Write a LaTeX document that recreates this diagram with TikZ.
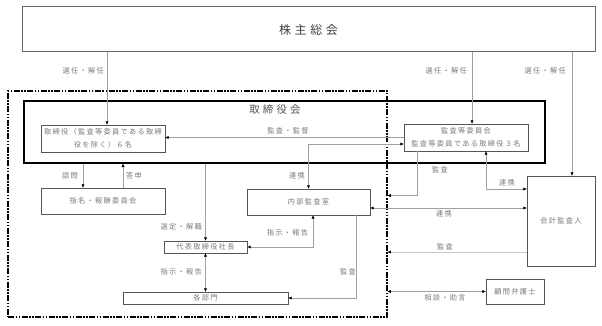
\documentclass[tikz,border=0pt]{standalone}
\usepackage{fontspec}
\setmainfont{Noto Sans CJK JP}
\newfontfamily\jp[LetterSpace=18]{Noto Sans CJK JP}
\newfontfamily\jpw[LetterSpace=30]{Noto Sans CJK JP}
\usetikzlibrary{arrows.meta}
\definecolor{lnGray}{HTML}{A0A0A0}
\definecolor{lnLight}{HTML}{C8C8C8}
\definecolor{txGray}{HTML}{7A7A7A}
\definecolor{bxGray}{HTML}{555555}
\definecolor{shGray}{HTML}{6A6A6A}
\definecolor{tGray}{HTML}{404040}

\begin{document}
\begin{tikzpicture}[x=1pt, y=-1pt,
  font=\jp\fontsize{7.2}{13.5}\selectfont, text=txGray,
  box/.style={draw=bxGray, line width=0.8pt, inner sep=0pt, align=center},
  lbl/.style={inner sep=0pt},
  ln/.style={draw=lnGray, line width=0.6pt},
  arr/.style={ln, -{Triangle[length=3.2pt,width=2.8pt,color=black]}},
  arrs/.style={ln, {Triangle[length=3.2pt,width=2.8pt,color=black]}-{Triangle[length=3.2pt,width=2.8pt,color=black]}},
]
\useasboundingbox (0,0) rectangle (602,326);
% company frame
\node[draw, line width=1.1pt, dash pattern=on 6pt off 1.5pt on 1.5pt off 1.5pt on 1.5pt off 1.5pt,
  minimum width=379, minimum height=226, inner sep=0pt] (co) at (197.5,204) {};
% boxes
\node[box, draw=shGray, line width=1pt, minimum width=573, minimum height=45,
  font=\jpw\fontsize{12}{14}\selectfont, text=tGray] (sh) at (308.5,29.5) {株主総会};
\node[draw=black, line width=1.6pt, minimum width=521, minimum height=62, inner sep=0pt] (bd) at (284.5,132) {};
\node[font=\jpw\fontsize{10.5}{12}\selectfont, text=bxGray] (bdt) at (275,110) {取締役会};
\node[box, minimum width=124, minimum height=27] (dir) at (103,138.5) {取締役（監査等委員である取締\\役を除く）６名};
\node[box, minimum width=124, minimum height=27, font=\jp\fontsize{7.2}{13}\selectfont] (ac) at (466,137.5) {監査等委員会\\監査等委員である取締役３名};
\node[box, minimum width=68, minimum height=90] (aud) at (561,221) {会計監査人};
\node[box, minimum width=124, minimum height=26] (nom) at (103,201) {指名・報酬委員会};
\node[box, minimum width=123, minimum height=26] (ia) at (308.5,202) {内部監査室};
\node[box, minimum width=83, minimum height=12] (pres) at (205.5,247) {代表取締役社長};
\node[box, minimum width=165, minimum height=12] (dept) at (205.5,298) {各部門};
\node[box, minimum width=58, minimum height=25] (law) at (515,291.5) {顧問弁護士};
% appointment
\draw[arr] ([xshift=4]dir.north |- sh.south) -- ([xshift=4]dir.north);
\draw[arr] ([xshift=6]ac.north |- sh.south) -- ([xshift=6]ac.north);
\draw[arr] ([xshift=11]aud.north |- sh.south) -- ([xshift=11]aud.north);
% audit committee
\draw[arr] (ac.west) -- (ac.west -| dir.east);
\draw[arrs] ([yshift=-6.5]ac.west) -| (ia.north);
\draw[arr] ([xshift=-49]ac.south) |- ([yshift=-7]ia.north -| co.east);
\draw[arrs] ([xshift=20]ac.south) |- ([yshift=32]aud.west);
\draw[arrs] ([yshift=-6]ia.east) -- ([yshift=-6]ia.east -| aud.west);
\draw[arr, draw=lnLight] ([yshift=-31]aud.west) -- ([yshift=-31]aud.west -| co.east);
\draw[arrs] (law.west -| co.east) -- (law.west);
% board and executives
\draw[arr] ([xshift=-20]nom.north |- bd.south) -- ([xshift=-20]nom.north);
\draw[arr] ([xshift=20]nom.north) -- ([xshift=20]nom.north |- bd.south);
\draw[arr] (pres.north |- bd.south) -- (pres.north);
\draw[arrs] (pres.east) -| ([xshift=4.5]ia.south);
\draw[arrs] (pres.south) -- (dept.north);
\draw[arr] ([xshift=47.5]ia.south) |- (dept.east);
% labels
\node[lbl, anchor=east] (l1) at (104,71) {選任・解任};
\node[lbl, anchor=east] (l2) at (467,71) {選任・解任};
\node[lbl, anchor=east] (l3) at (566,71) {選任・解任};
\node[lbl] (l4) at (288,131) {監査・監督};
\node[lbl, anchor=east] (l5) at (305,176) {連携};
\node[lbl] (l6) at (440,170) {監査};
\node[lbl] (l7) at (507,183) {連携};
\node[lbl] (l8) at (444,214) {連携};
\node[lbl] (l9) at (445,247) {監査};
\node[lbl] (l10) at (445,298) {相談・助言};
\node[lbl] (l11) at (70,176) {諮問};
\node[lbl] (l12) at (134,176) {答申};
\node[lbl, anchor=east] (l13) at (202,227) {選定・解職};
\node[lbl] (l14) at (287.5,233) {指示・報告};
\node[lbl, anchor=east] (l15) at (202,272) {指示・報告};
\node[lbl, anchor=east] (l16) at (356,272) {監査};
\end{tikzpicture}
\end{document}
